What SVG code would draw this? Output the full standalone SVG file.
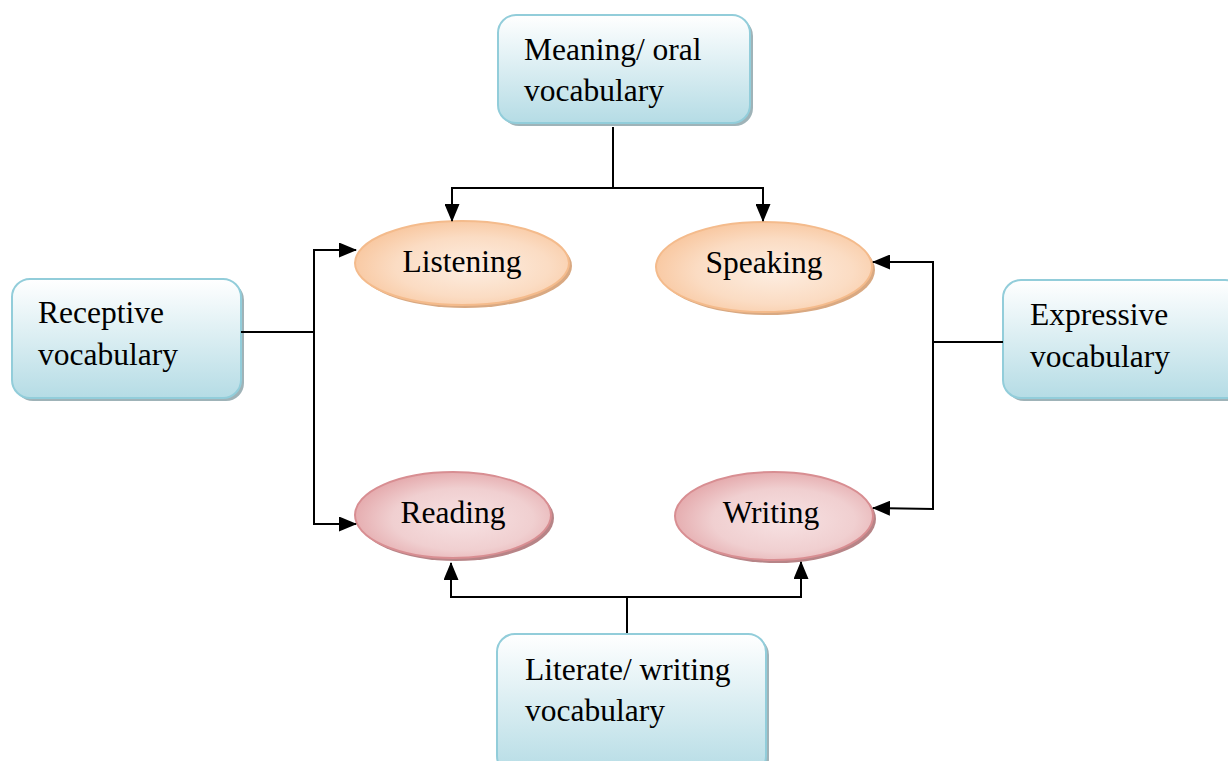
<svg xmlns="http://www.w3.org/2000/svg" width="1228" height="761" viewBox="0 0 1228 761">
<defs>
<linearGradient id="boxG" x1="0" y1="0" x2="0" y2="1">
<stop offset="0" stop-color="#ffffff"/>
<stop offset="1" stop-color="#b5dce5"/>
</linearGradient>
<radialGradient id="orG" cx="0.55" cy="0.55" r="0.6">
<stop offset="0" stop-color="#fdeee2"/>
<stop offset="0.6" stop-color="#fbdcc3"/>
<stop offset="1" stop-color="#f8c59c"/>
</radialGradient>
<radialGradient id="pkG" cx="0.55" cy="0.55" r="0.6">
<stop offset="0" stop-color="#f7e2e3"/>
<stop offset="0.6" stop-color="#f0cfd0"/>
<stop offset="1" stop-color="#e3a5a8"/>
</radialGradient>
<marker id="arr" viewBox="0 0 18 15" refX="17" refY="7.5" markerWidth="18" markerHeight="15" markerUnits="userSpaceOnUse" orient="auto">
<path d="M0,0 L18,7.5 L0,15 Z" fill="#000"/>
</marker>
</defs>
<style>
.box{fill:url(#boxG);stroke:#92cdda;stroke-width:2}
.bsh{fill:#9fb3b8}
.or{fill:url(#orG);stroke:#f4bb8c;stroke-width:2}
.osh{fill:#d9a982}
.pk{fill:url(#pkG);stroke:#d88e92;stroke-width:2}
.psh{fill:#b78487}
.t{font-family:"Liberation Serif","Times New Roman",serif;font-size:31.5px;fill:#000}
.c{text-anchor:middle}
.ln{fill:none;stroke:#000;stroke-width:2}
</style>
<rect width="1228" height="761" fill="#fff"/>
<g id="meaning">
<rect class="bsh" x="501" y="18" width="252" height="108" rx="18"/>
<rect class="box" x="498" y="15" width="252" height="108" rx="18"/>
<text class="t" x="524" y="60">Meaning/ oral</text>
<text class="t" x="524" y="101">vocabulary</text>
</g>
<g id="receptive">
<rect class="bsh" x="15" y="282" width="229" height="119" rx="18"/>
<rect class="box" x="12" y="279" width="229" height="119" rx="18"/>
<text class="t" x="38" y="323">Receptive</text>
<text class="t" x="38" y="365">vocabulary</text>
</g>
<g id="expressive">
<rect class="bsh" x="1006" y="283" width="240" height="118" rx="18"/>
<rect class="box" x="1003" y="280" width="240" height="118" rx="18"/>
<text class="t" x="1030" y="325">Expressive</text>
<text class="t" x="1030" y="367">vocabulary</text>
</g>
<g id="literate">
<rect class="bsh" x="500" y="637" width="269" height="140" rx="18"/>
<rect class="box" x="497" y="634" width="269" height="140" rx="18"/>
<text class="t" x="525" y="680">Literate/ writing</text>
<text class="t" x="525" y="721">vocabulary</text>
</g>
<g id="listening">
<ellipse class="osh" cx="465" cy="266" rx="107" ry="42"/>
<ellipse class="or" cx="462" cy="263" rx="107" ry="42"/>
<text class="t c" x="462" y="272">Listening</text>
</g>
<g id="speaking">
<ellipse class="osh" cx="767" cy="270" rx="108" ry="45"/>
<ellipse class="or" cx="764" cy="267" rx="108" ry="45"/>
<text class="t c" x="764" y="273">Speaking</text>
</g>
<g id="reading">
<ellipse class="psh" cx="456" cy="518" rx="98" ry="43"/>
<ellipse class="pk" cx="453" cy="515" rx="98" ry="43"/>
<text class="t c" x="453" y="523">Reading</text>
</g>
<g id="writing">
<ellipse class="psh" cx="777" cy="519" rx="99" ry="44"/>
<ellipse class="pk" cx="774" cy="516" rx="99" ry="44"/>
<text class="t c" x="771" y="523">Writing</text>
</g>
<g id="connectors">
<polyline class="ln" points="613,127 613,188"/>
<polyline class="ln" points="613,188 452,188 452,221" marker-end="url(#arr)"/>
<polyline class="ln" points="613,188 763,188 763,221" marker-end="url(#arr)"/>
<polyline class="ln" points="241,332 314,332"/>
<polyline class="ln" points="314,332 314,250 356,250" marker-end="url(#arr)"/>
<polyline class="ln" points="314,332 314,524 356,524" marker-end="url(#arr)"/>
<polyline class="ln" points="1003,342 933,342"/>
<polyline class="ln" points="933,342 933,262 873,262" marker-end="url(#arr)"/>
<polyline class="ln" points="933,342 933,509 873,508" marker-end="url(#arr)"/>
<polyline class="ln" points="627,633 627,597"/>
<polyline class="ln" points="627,597 451,597 451,563" marker-end="url(#arr)"/>
<polyline class="ln" points="627,597 801,597 801,562" marker-end="url(#arr)"/>
</g>
</svg>
